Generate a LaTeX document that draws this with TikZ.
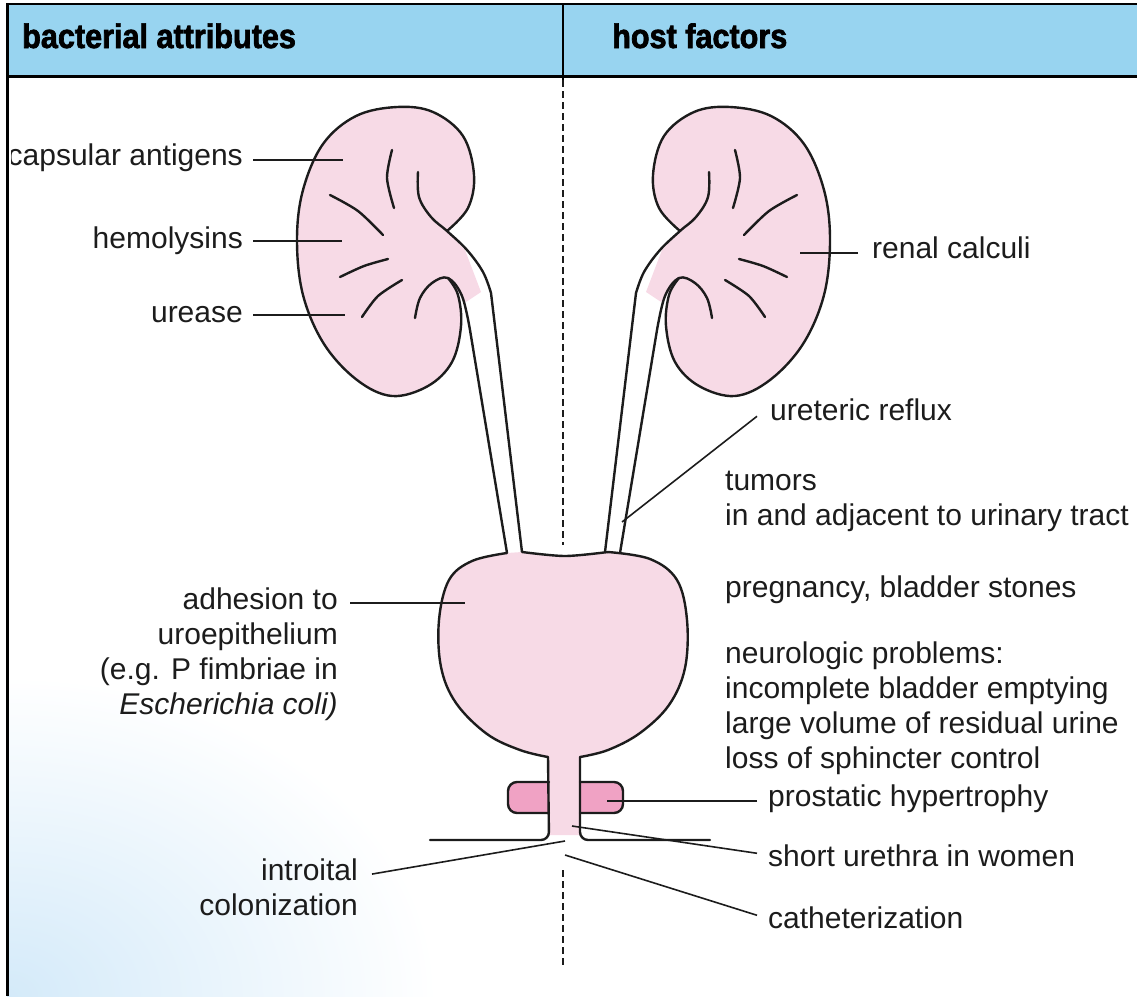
\documentclass[tikz,border=0pt]{standalone}
\usepackage{fontspec}
\setmainfont{Liberation Sans}
\newfontfamily\headfont[BoldFeatures={FakeBold=2}, FakeStretch=0.9]{Liberation Sans}
\usetikzlibrary{calc}
\definecolor{headblue}{RGB}{152,212,240}
\definecolor{washblue}{RGB}{212,234,249}
\definecolor{organpink}{RGB}{247,218,230}
\definecolor{prostpink}{RGB}{240,162,196}
\definecolor{inkc}{RGB}{28,28,28}

\begin{document}
\begin{tikzpicture}[x=1pt,y=-1pt,
  outline/.style={line width=2.4pt, line cap=round, line join=round, draw=inkc},
  leader/.style={line width=1.6pt, draw=inkc},
  divider/.style={line width=2pt, draw=inkc, dash pattern=on 7pt off 4pt},
  lbl/.style={font=\fontsize{30}{35}\selectfont, text=inkc, inner sep=0pt},
  headtxt/.style={font=\headfont\fontsize{34}{38}\selectfont\bfseries, text=black, inner sep=0pt},
  kidney/.pic={
    % kidney body, filled through the hilum into the top of the ureter
    \fill[organpink] plot[smooth, tension=0.6] coordinates {(447,231) (468,208) (474,175) (463,136) (433,112) (397,107) (356,116) (323,144) (303,190) (297,240) (303,295) (324,344) (357,380) (392,396) (428,386) (452,362) (461,326) (458,295) (448,278)}
      -- (466,302) -- (481,292) -- (465,250) -- cycle;
    % outer contour
    \draw[outline] plot[smooth, tension=0.6] coordinates {(447,231) (468,208) (474,175) (463,136) (433,112) (397,107) (356,116) (323,144) (303,190) (297,240) (303,295) (324,344) (357,380) (392,396) (428,386) (452,362) (461,326) (458,295) (448,278)};
    % upper hook running into the outer wall of the ureter
    \draw[outline] plot[smooth, tension=0.6] coordinates {(418,172) (419,197) (431,217) (447,231) (467,250) (483,272) (491,293)} -- (522,552);
    % lower hook running into the inner wall of the ureter
    \draw[outline] plot[smooth, tension=0.6] coordinates {(415,318) (420,298) (432,283) (448,278) (462,296) (470,330)} -- (507,553);
    % calyces
    \draw[outline] plot[smooth] coordinates {(392,150) (387,178) (394,208)};
    \draw[outline] plot[smooth] coordinates {(330,195) (358,211) (383,235)};
    \draw[outline] plot[smooth] coordinates {(340,277) (364,266) (388,259)};
    \draw[outline] plot[smooth] coordinates {(362,317) (378,296) (402,280)};
  }
]
\useasboundingbox (0,0) rectangle (1137,996);

% watercolour wash in the lower left corner
\begin{scope}
  \clip (7,76) rectangle (1137,996);
  \shade[inner color=washblue, outer color=white] (7,996) ellipse [x radius=430, y radius=320];
\end{scope}

% header band
\fill[headblue] (7,4) rectangle (1137,76);
\draw[line width=3pt, draw=black] (7,76) -- (1137,76);
\draw[line width=2pt, draw=black] (563,4) -- (563,80);
\node[headtxt, anchor=base west] (bact) at (22,48) {bacterial attributes};
\node[headtxt, anchor=base west] (host) at (612,48) {host factors};

% dashed divider between the two columns
\coordinate (divTop) at (563,80);
\coordinate (divMid) at (563,545);
\coordinate (divLow) at (563,870);
\coordinate (divEnd) at (563,966);
\draw[divider] (divTop) -- (divMid);
\draw[divider] (divLow) -- (divEnd);

% kidneys and ureters
\pic at (0,0) {kidney};
\pic[xscale=-1] at (1127,0) {kidney};

% bladder with urethra
\fill[organpink] plot[smooth, tension=0.6] coordinates {(507,553) (472,561) (449,580) (439,620) (441,667) (456,703) (487,734) (520,750) (548,757)}
  -- (549,835) -- (580,835)
  -- plot[smooth, tension=0.6] coordinates {(580,757) (608,750) (640,733) (669,705) (685,668) (687,620) (677,580) (650,559) (608,552)}
  -- plot[smooth] coordinates {(608,552) (565,556) (522,552)} -- cycle;

% prostate lobes
\filldraw[outline, fill=prostpink, rounded corners=9] (549,782) -- (508,782) -- (508,813) -- (549,813);
\filldraw[outline, fill=prostpink, rounded corners=9] (580,782) -- (623,782) -- (623,813) -- (580,813);

\draw[outline] plot[smooth] coordinates {(522,552) (565,556) (608,552)};
\draw[outline] plot[smooth, tension=0.6] coordinates {(507,553) (472,561) (449,580) (439,620) (441,667) (456,703) (487,734) (520,750) (548,757)}
  [rounded corners=8] -- (549,840) -- (430,840);
\draw[outline] plot[smooth, tension=0.6] coordinates {(608,552) (650,559) (677,580) (687,620) (685,668) (669,705) (640,733) (608,750) (580,757)}
  [rounded corners=8] -- (580,840) -- (710,840);

% frame
\draw[line width=2pt, draw=black] (7,4) -- (1137,4);

% labels, bacterial side (multi-line labels sit on their last baseline)
\begin{scope}
  \clip (11,100) rectangle (300,200);
  \node[lbl, anchor=base east] (capsular) at (243,165) {capsular antigens};
\end{scope}
\node[lbl, anchor=base east] (hemo) at (243,248) {hemolysins};
\node[lbl, anchor=base east] (urease) at (243,322) {urease};
\node[lbl, anchor=base east, align=right] (adhesion) at (338,714) {adhesion to\\uroepithelium\\(e.g. P fimbriae in\\\textit{Escherichia coli)}};
\node[lbl, anchor=base east, align=right] (introital) at (358,915) {introital\\colonization};

% labels, host side
\node[lbl, anchor=base west] (renal) at (872,258) {renal calculi};
\node[lbl, anchor=base west] (reflux) at (770,420) {ureteric reflux};
\node[lbl, anchor=base west, align=left] (tumors) at (725,525) {tumors\\in and adjacent to urinary tract};
\node[lbl, anchor=base west] (preg) at (725,597) {pregnancy, bladder stones};
\node[lbl, anchor=base west, align=left] (neuro) at (725,768) {neurologic problems:\\incomplete bladder emptying\\large volume of residual urine\\loss of sphincter control};
\node[lbl, anchor=base west] (prost) at (768,806) {prostatic hypertrophy};
\node[lbl, anchor=base west] (short) at (768,866) {short urethra in women};
\node[lbl, anchor=base west] (cath) at (768,928) {catheterization};

% leader targets
\coordinate (capEnd) at (343,160);
\coordinate (hemoEnd) at (342,241);
\coordinate (ureaseEnd) at (345,315);
\coordinate (adhEnd) at (465,603);
\coordinate (introEnd) at (565,841);
\coordinate (renalEnd) at (800,253);
\coordinate (refluxEnd) at (622,522);
\coordinate (prostEnd) at (607,801);
\coordinate (shortEnd) at (572,826);
\coordinate (cathEnd) at (565,855);

% leaders
\draw[leader] (hemo.east |- capEnd) ++(10,0) -- (capEnd);
\draw[leader] (hemo.east |- hemoEnd) ++(10,0) -- (hemoEnd);
\draw[leader] (urease.east |- ureaseEnd) ++(10,0) -- (ureaseEnd);
\draw[leader] (adhesion.east |- adhEnd) ++(12,0) -- (adhEnd);
\draw[leader] ($(introital.north east)+(14,16)$) -- (introEnd);
\draw[leader] (renal.west |- renalEnd) ++(-14,0) -- (renalEnd);
\draw[leader] ($(reflux.west)+(-13,7)$) -- (refluxEnd);
\draw[leader] (prost.west |- prostEnd) ++(-11,0) -- (prostEnd);
\draw[leader] ($(short.west)+(-11,-2)$) -- (shortEnd);
\draw[leader] ($(cath.west)+(-11,-2)$) -- (cathEnd);

% left frame line
\draw[line width=3pt, draw=black] (7,3) -- (7,996);
\end{tikzpicture}
\end{document}
